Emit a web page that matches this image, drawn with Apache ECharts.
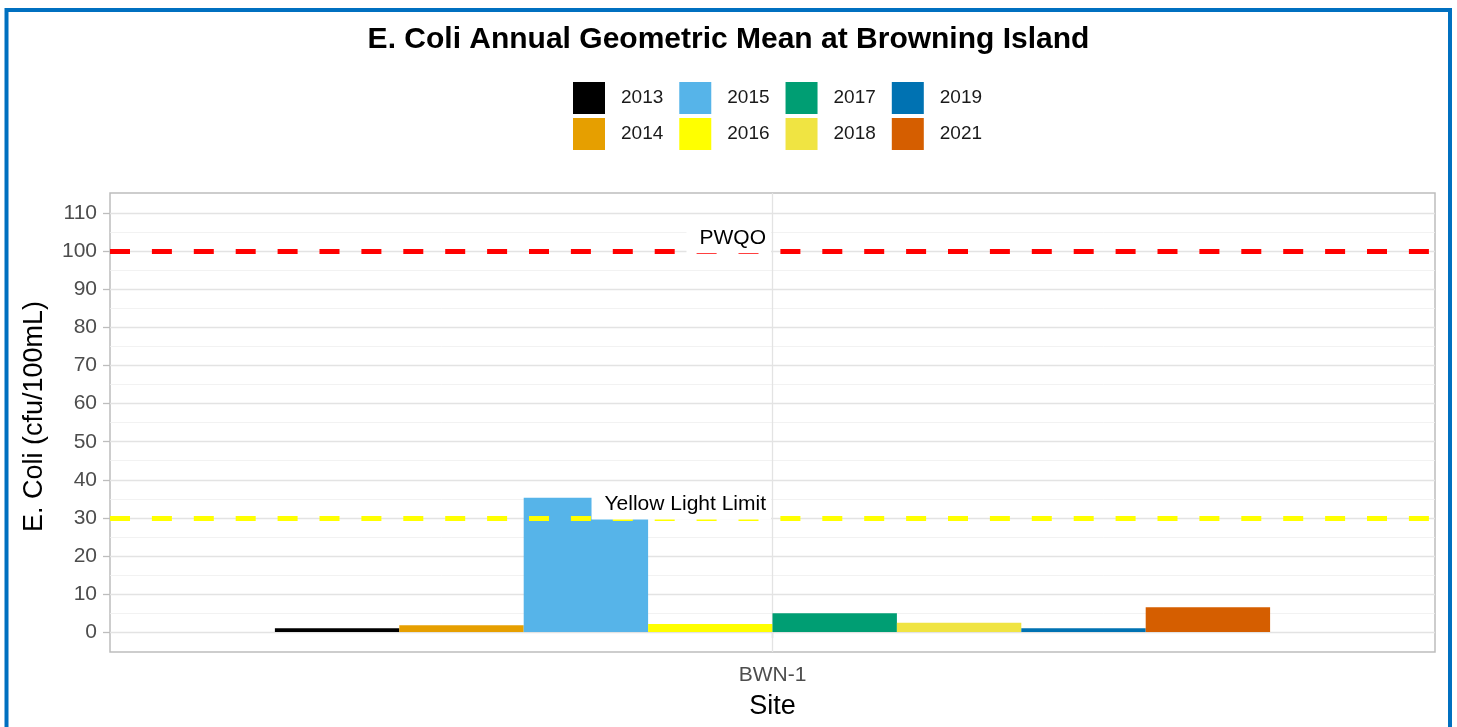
<!DOCTYPE html>
<html>
<head>
<meta charset="utf-8">
<script src="https://cdn.jsdelivr.net/npm/echarts@6/dist/echarts.min.js"></script>
<style>
  html, body { margin: 0; padding: 0; background: #ffffff; }
  #chart { width: 1457px; height: 727px; }
</style>
</head>
<body>
<div id="chart"></div>
<script>
// ---- data ----
const sites = ['BWN-1'];
const years = ['2013', '2014', '2015', '2016', '2017', '2018', '2019', '2021'];
const geoMeans = [1.0, 1.8, 35.3, 2.1, 4.9, 2.4, 1.0, 6.5];
const thresholdNames = ['PWQO', 'Yellow Light Limit'];
const thresholdValues = [100, 30];
const yTicks = [0, 10, 20, 30, 40, 50, 60, 70, 80, 90, 100, 110];
const yMinorTicks = [5, 15, 25, 35, 45, 55, 65, 75, 85, 95, 105];

// ---- styles ----
const palette = ['#000000', '#E69F00', '#56B4E9', '#FFFF00', '#009E73', '#F0E442', '#0072B2', '#D55E00'];
const thresholdColors = ['#FF0000', '#FFFF00'];
const FONT = '"Liberation Sans", Arial, Helvetica, sans-serif';

const chart = echarts.init(document.getElementById('chart'), null, { renderer: 'canvas' });

const barSeries = years.map((y, i) => ({
  name: y,
  type: 'bar',
  xAxisIndex: 0,
  yAxisIndex: 0,
  data: [geoMeans[i]],
  barWidth: 124.4,
  barGap: '0%',
  itemStyle: { color: palette[i] },
  emphasis: { disabled: true },
  z: 2
}));

// threshold lines (drawn above bars)
barSeries[0].markLine = {
  silent: true,
  symbol: 'none',
  z: 5,
  label: { show: false },
  data: thresholdValues.map((v, i) => ({
    yAxis: v,
    lineStyle: { color: thresholdColors[i], width: 5, type: [20, 21.9], cap: 'butt' }
  }))
};

const labelSeries = {
  type: 'scatter',
  xAxisIndex: 0,
  yAxisIndex: 0,
  silent: true,
  symbolSize: 0,
  z: 10,
  itemStyle: { opacity: 1 },
  data: thresholdValues.map((v, i) => ({ value: [sites[0], v], name: thresholdNames[i] })),
  label: {
    show: true,
    position: 'left',
    distance: 1.5,
    offset: [0, -13.7],
    formatter: p => p.name,
    fontFamily: FONT,
    fontSize: 21,
    lineHeight: 21,
    color: '#000000',
    opacity: 1,
    backgroundColor: '#ffffff',
    padding: [5, 5, 5, 13]
  },
  emphasis: { disabled: true },
  // vertical major gridline at the site category (below bars)
  markLine: {
    silent: true,
    symbol: 'none',
    z: 1,
    label: { show: false },
    data: [{ xAxis: sites[0], lineStyle: { color: '#e3e3e3', width: 1.3, type: 'solid' } }]
  }
};

const legendCommon = {
  icon: 'rect',
  itemWidth: 32,
  itemHeight: 32,
  itemGap: 16,
  padding: 0,
  left: 573,
  selectedMode: false,
  textStyle: { fontFamily: FONT, fontSize: 19, color: '#1a1a1a', padding: [0, 0, 0, 11] }
};

const option = {
  animation: false,
  backgroundColor: '#ffffff',
  title: {
    text: 'E. Coli Annual Geometric Mean at Browning Island',
    left: 'center',
    top: 25,
    padding: 0,
    textStyle: { fontFamily: FONT, fontSize: 30, fontWeight: 'bold', color: '#000000' }
  },
  legend: [
    Object.assign({}, legendCommon, { top: 82, data: [years[0], years[2], years[4], years[6]] }),
    Object.assign({}, legendCommon, { top: 118, data: [years[1], years[3], years[5], years[7]] })
  ],
  grid: {
    left: 110, top: 193, width: 1325, height: 459,
    show: true, borderColor: '#bdbdbd', borderWidth: 1.5, backgroundColor: 'transparent'
  },
  xAxis: {
    type: 'category',
    data: sites,
    axisLine: { show: false },
    axisTick: { show: true, alignWithLabel: true, length: 6, lineStyle: { color: '#bdbdbd', width: 1.3 } },
    axisLabel: { margin: 13, fontFamily: FONT, fontSize: 21, color: '#4d4d4d' },
    splitLine: { show: false },
    name: 'Site',
    nameLocation: 'middle',
    nameGap: 41,
    nameTextStyle: { fontFamily: FONT, fontSize: 27, color: '#000000' }
  },
  yAxis: [
    {
      type: 'value',
      min: -5.26,
      max: 115.36,
      axisLine: { show: false },
      axisTick: { show: true, length: 7, customValues: yTicks, lineStyle: { color: '#bdbdbd', width: 1.3 } },
      axisLabel: { margin: 13, customValues: yTicks, fontFamily: FONT, fontSize: 21, color: '#4d4d4d' },
      splitLine: { show: true, lineStyle: { color: '#e3e3e3', width: 1.3 } },
      name: 'E. Coli (cfu/100mL)',
      nameLocation: 'middle',
      nameGap: 62,
      nameTextStyle: { fontFamily: FONT, fontSize: 27, color: '#000000', padding: [0, 0, 0, 12] }
    },
    {
      type: 'value',
      min: -5.26,
      max: 115.36,
      position: 'left',
      axisLine: { show: false },
      axisTick: { show: false, customValues: yMinorTicks },
      axisLabel: { show: false, customValues: yMinorTicks },
      splitLine: { show: true, lineStyle: { color: '#efefef', width: 0.8 } }
    }
  ],
  graphic: [{
    type: 'rect',
    silent: true,
    z: 100,
    shape: { x: 6.5, y: 10, width: 1443.5, height: 740 },
    style: { fill: 'none', stroke: '#0070C0', lineWidth: 4 }
  }],
  series: barSeries.concat([labelSeries])
};

chart.setOption(option);
</script>
</body>
</html>
